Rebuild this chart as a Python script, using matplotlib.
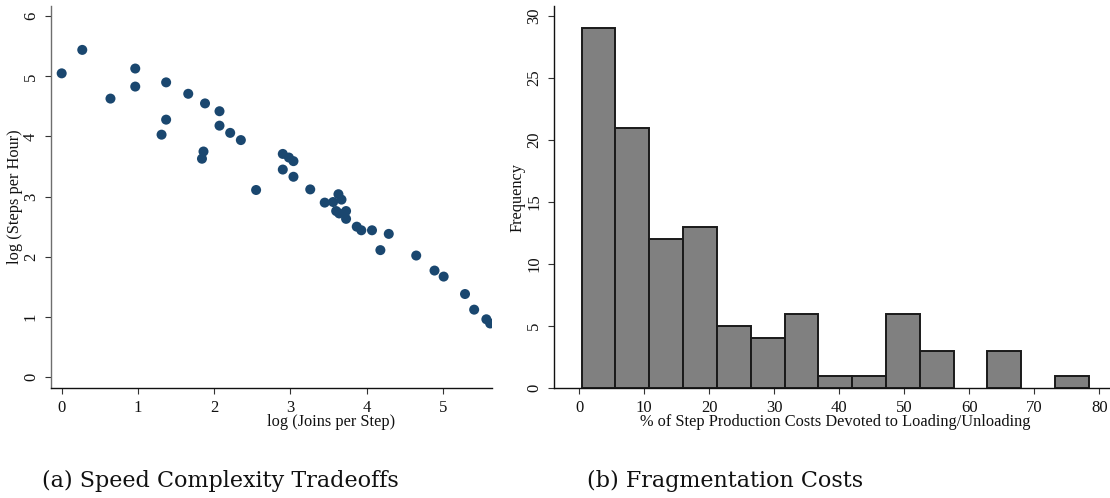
import matplotlib
matplotlib.use("Agg")
import matplotlib.pyplot as plt
import numpy as np

# ---- data: panel (a) scatter ----
log_joins = [0.00, 0.27, 0.64, 0.965, 0.965, 1.37, 1.37, 1.31, 1.66, 1.88,
             2.07, 2.07, 1.86, 1.84, 2.21, 2.35, 2.55, 2.90, 2.98, 3.04,
             2.90, 3.04, 3.26, 3.45, 3.56, 3.63, 3.67, 3.60, 3.64, 3.73,
             3.73, 3.87, 3.93, 4.07, 4.29, 4.18, 4.65, 4.89, 5.01, 5.29,
             5.41, 5.57, 5.62]
log_steps = [5.05, 5.44, 4.63, 5.13, 4.83, 4.90, 4.28, 4.03, 4.71, 4.55,
             4.42, 4.18, 3.75, 3.63, 4.06, 3.94, 3.11, 3.71, 3.65, 3.59,
             3.45, 3.33, 3.12, 2.90, 2.91, 3.04, 2.95, 2.76, 2.72, 2.76,
             2.63, 2.50, 2.44, 2.44, 2.38, 2.11, 2.02, 1.77, 1.67, 1.38,
             1.12, 0.96, 0.89]

# ---- data: panel (b) histogram ----
bin_start = 0.4
bin_width = 5.2
hist_counts = [29, 21, 12, 13, 5, 4, 6, 1, 1, 6, 3, 0, 3, 0, 1]

scatter_xticks = [0, 1, 2, 3, 4, 5]
scatter_yticks = [0, 1, 2, 3, 4, 5, 6]
hist_xticks = [0, 10, 20, 30, 40, 50, 60, 70, 80]
hist_yticks = [0, 5, 10, 15, 20, 25, 30]

W, H = 1110, 498
fig = plt.figure(figsize=(W / 100, H / 100), dpi=100)
fig.patch.set_facecolor("white")

serif = ["Liberation Serif", "DejaVu Serif"]
tick_fs = 12
lab_fs = 11.8

def px(x0, y0, x1, y1):
    return [x0 / W, 1 - y1 / H, (x1 - x0) / W, (y1 - y0) / H]

def style_ticks(ax):
    ax.tick_params(axis="both", direction="out", length=4, width=0.8,
                   colors="#333333", labelcolor="#111111",
                   labelsize=tick_fs, pad=4.5)
    for lab in ax.get_xticklabels():
        lab.set_fontfamily(serif)
    for lab in ax.get_yticklabels():
        lab.set_fontfamily(serif)
        lab.set_rotation(90)
        lab.set_va("center")

# ---------- panel (a) ----------
ax1 = fig.add_axes(px(50.7, 6, 491.7, 388))
ax1.scatter(log_joins, log_steps, s=52, color="#1a476f", edgecolors="none",
            zorder=3, clip_on=True)
ax1.set_xlim(-0.144, 5.64)
ax1.set_ylim(-0.183, 6.17)
ax1.set_xticks(scatter_xticks)
ax1.set_yticks(scatter_yticks)
for s in ["top", "right"]:
    ax1.spines[s].set_visible(False)
ax1.spines["left"].set_color("#6e6e6e")
ax1.spines["bottom"].set_color("#111111")
ax1.spines["left"].set_linewidth(1.0)
ax1.spines["bottom"].set_linewidth(1.0)
style_ticks(ax1)
fig.text(15 / W, 1 - 197 / H, "log (Steps per Hour)", rotation=90,
         ha="center", va="center", fontsize=lab_fs, family=serif, color="#111111")
fig.text(331 / W, 1 - 422 / H, "log (Joins per Step)",
         ha="center", va="center", fontsize=lab_fs, family=serif, color="#111111")

# ---------- panel (b) ----------
ax2 = fig.add_axes(px(554, 6, 1109, 388))
lefts = [bin_start + i * bin_width for i in range(len(hist_counts))]
nz_lefts = [l for l, c in zip(lefts, hist_counts) if c > 0]
nz_counts = [c for c in hist_counts if c > 0]
ax2.bar(nz_lefts, nz_counts, width=bin_width, align="edge", color="#808080",
        edgecolor="#1a1a1a", linewidth=1.4, zorder=3)
ax2.set_xlim(-3.85, 81.5)
ax2.set_ylim(0, 30.8)
ax2.set_xticks(hist_xticks)
ax2.set_yticks(hist_yticks)
for s in ["top", "right"]:
    ax2.spines[s].set_visible(False)
for s in ["left", "bottom"]:
    ax2.spines[s].set_color("#111111")
    ax2.spines[s].set_linewidth(1.0)
style_ticks(ax2)
fig.text(518 / W, 1 - 197 / H, "Frequency", rotation=90,
         ha="center", va="center", fontsize=lab_fs, family=serif, color="#111111")
fig.text(835 / W, 1 - 422 / H,
         "% of Step Production Costs Devoted to Loading/Unloading",
         ha="center", va="center", fontsize=lab_fs, family=serif, color="#111111")

# ---------- captions ----------
fig.text(220 / W, 1 - 487 / H, "(a) Speed Complexity Tradeoffs",
         ha="center", va="baseline", fontsize=16.0, family=["DejaVu Serif"],
         color="#111111")
fig.text(725 / W, 1 - 487 / H, "(b) Fragmentation Costs",
         ha="center", va="baseline", fontsize=16.0, family=["DejaVu Serif"],
         color="#111111")

fig.savefig("out.png", dpi=100, facecolor="white")
